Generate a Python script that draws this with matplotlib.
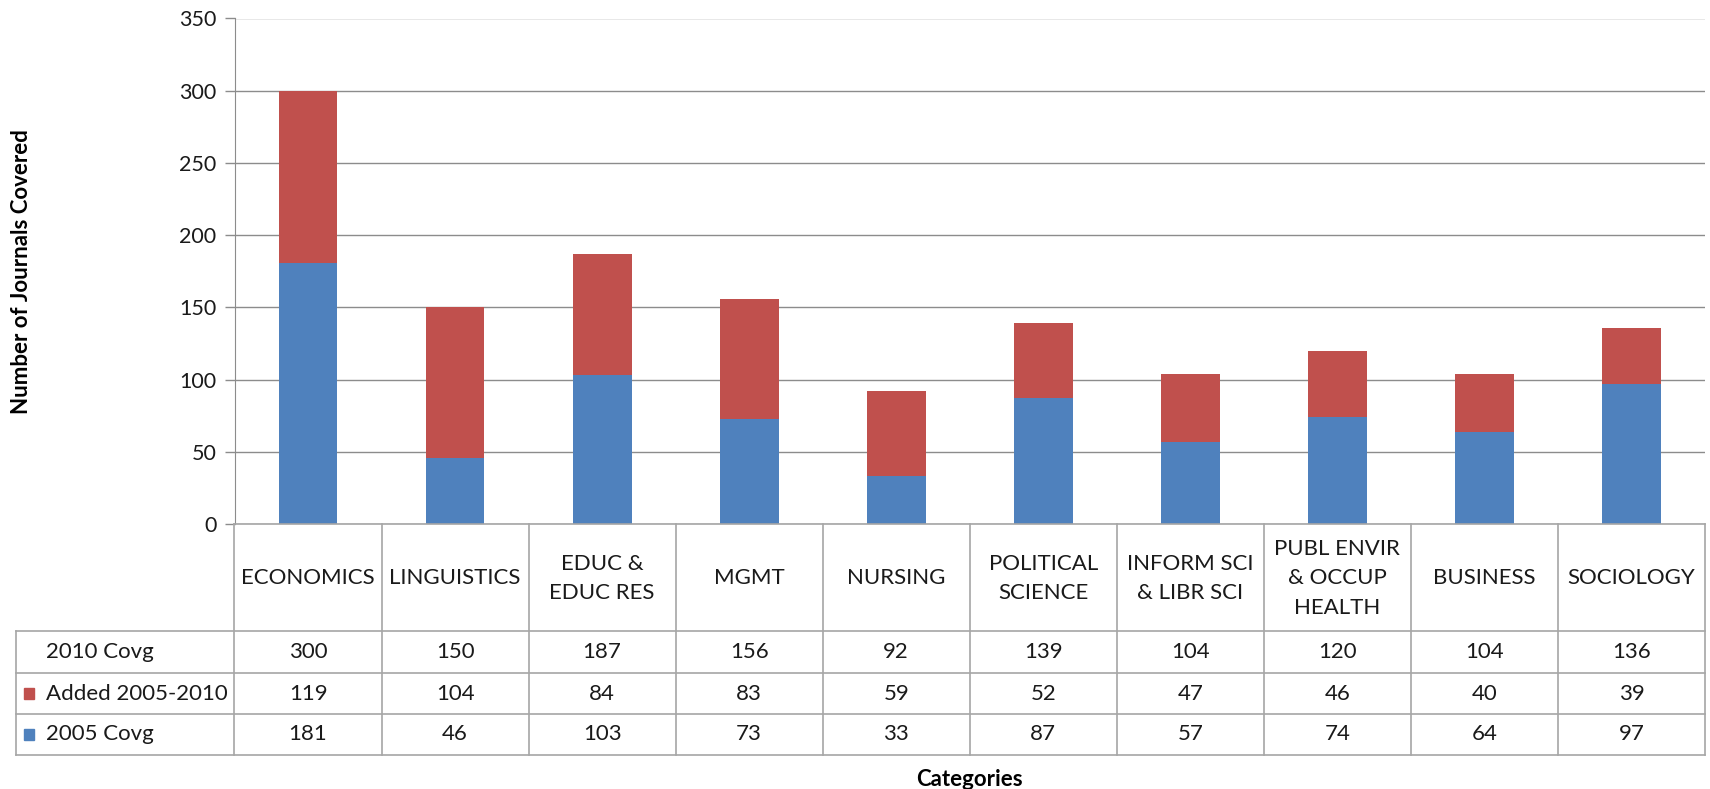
import numpy as np
import matplotlib.pyplot as plt

plt.rcParams['font.family'] = ['Lato', 'DejaVu Sans']

categories = ['ECONOMICS', 'LINGUISTICS', 'EDUC &\nEDUC RES', 'MGMT', 'NURSING',
              'POLITICAL\nSCIENCE', 'INFORM SCI\n& LIBR SCI', 'PUBL ENVIR\n& OCCUP\nHEALTH',
              'BUSINESS', 'SOCIOLOGY']
covg_2010 = [300, 150, 187, 156, 92, 139, 104, 120, 104, 136]
added = [119, 104, 84, 83, 59, 52, 47, 46, 40, 39]
covg_2005 = [181, 46, 103, 73, 33, 87, 57, 74, 64, 97]
series_names = ['2010 Covg', 'Added 2005-2010', '2005 Covg']
yticks = [0, 50, 100, 150, 200, 250, 300, 350]

blue = '#4F81BD'
red = '#C0504D'
grid_c = '#8c8c8c'
line_c = '#a6a6a6'
txt_c = '#1a1a1a'
fs = 16

W, H = 1710, 789
fig = plt.figure(figsize=(W / 100, H / 100), dpi=100)

# plot area in pixels
L, R, T, B = 234.5, 1705, 18.5, 524
ax = fig.add_axes([L / W, 1 - B / H, (R - L) / W, (B - T) / H])

n = len(categories)
x = np.arange(n) + 0.5
ax.bar(x, covg_2005, width=0.4, color=blue, zorder=3)
ax.bar(x, added, width=0.4, bottom=covg_2005, color=red, zorder=3)

ax.set_xlim(0, n)
ax.set_ylim(0, 350)
ax.set_yticks(yticks)
ax.yaxis.grid(True, color=grid_c, lw=1, zorder=0)
ax.set_xticks([])
ax.tick_params(axis='y', length=7, width=1, color=grid_c, labelsize=15.5, pad=6,
               labelcolor=txt_c)
for s in ['top', 'right', 'bottom']:
    ax.spines[s].set_visible(False)
ax.spines['left'].set_color(grid_c)
ax.set_ylabel('Number of Journals Covered', fontsize=16, fontweight='bold')
ax.yaxis.set_label_coords(-(L - 32) / (R - L), 0.5)

# data table below the plot
TL, TB = 16, 755
colw = (R - L) / n
legw = (L - TL) / colw
tax = fig.add_axes([TL / W, 1 - TB / H, (R - TL) / W, (TB - B) / H])
tax.set_xlim(-legw, n)
rows = [0, 107, 149, 190, 231]
tax.set_ylim(rows[-1], 0)
tax.axis('off')

lk = dict(color=line_c, lw=1.2, clip_on=False)
tax.plot([0, n], [0, 0], **lk)
for yb in rows[1:]:
    tax.plot([-legw, n], [yb, yb], **lk)
tax.plot([-legw, -legw], [rows[1], rows[-1]], **lk)
for i in range(n + 1):
    tax.plot([i, i], [0, rows[-1]], **lk)

for i, c in enumerate(categories):
    tax.text(i + 0.5, rows[1] / 2 + 1, c, ha='center', va='center', fontsize=fs,
             linespacing=1.6, color=txt_c)

values = [covg_2010, added, covg_2005]
colors = [None, red, blue]
for r, (name, vals, col) in enumerate(zip(series_names, values, colors)):
    yc = (rows[r + 1] + rows[r + 2]) / 2
    tx = -legw + 30 / colw
    tax.text(tx, yc, name, ha='left', va='center', fontsize=fs, color=txt_c)
    if col is not None:
        tax.add_patch(plt.Rectangle((-legw + 8 / colw, yc - 5.5), 10 / colw, 11,
                                    color=col, clip_on=False))
    for i, v in enumerate(vals):
        tax.text(i + 0.5, yc, str(v), ha='center', va='center', fontsize=fs,
                 color=txt_c)

fig.text((L + R) / 2 / W, 1 - 779 / H, 'Categories', ha='center', va='center',
         fontsize=16, fontweight='bold')

fig.savefig('out.png', dpi=100)
